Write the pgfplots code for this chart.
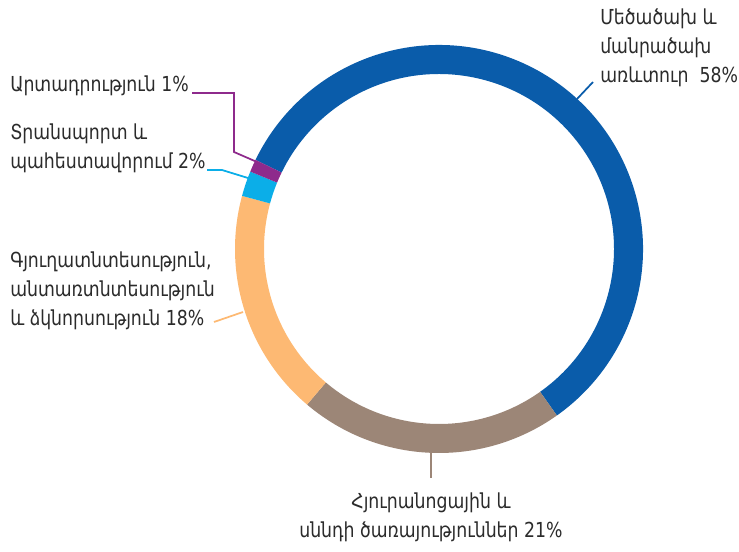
\documentclass[border=0pt]{standalone}
\usepackage{pgfplots}
\pgfplotsset{compat=1.18}
\usepackage{fontspec}
\setmainfont[FakeStretch=0.93]{DejaVu Sans Condensed}
\definecolor{cblue}{HTML}{0A5CAA}
\definecolor{cbrown}{HTML}{9C8677}
\definecolor{corange}{HTML}{FDB973}
\definecolor{ccyan}{HTML}{0BAEE8}
\definecolor{cpurple}{HTML}{8E2A8C}
\definecolor{ctext}{HTML}{2B2B2B}
\begin{document}
\begin{tikzpicture}
\begin{axis}[scale only axis, width=554.25pt, height=414pt,
  xmin=0, xmax=739, ymin=0, ymax=552, y dir=reverse,
  hide axis, clip=false]
\path (axis cs:0,0) (axis cs:739,552);
\xdef\s{154.1}
\foreach \v/\c in {58/cblue,21/cbrown,18/corange,2/ccyan,1/cpurple}{
  \pgfmathsetmacro{\e}{\s-3.6*\v}
  \edef\doit{\noexpand\fill[\c, shift={(axis cs:439,249)}] (\s:153pt) arc[start angle=\s, end angle=\e, radius=153pt] -- (\e:131.25pt) arc[start angle=\e, end angle=\s, radius=131.25pt] -- cycle;}
  \doit
  \xdef\s{\e}
}
% leader lines
\draw[cpurple, line width=1.3pt] (axis cs:192,93) -- (axis cs:234,93) -- (axis cs:234,152) -- (axis cs:257,162);
\draw[ccyan, line width=1.3pt] (axis cs:207,170) -- (axis cs:222,170) -- (axis cs:248,178);
\draw[corange, line width=1.3pt] (axis cs:214,322) -- (axis cs:243,312);
\draw[cbrown, line width=1.3pt] (axis cs:431,452) -- (axis cs:431,478);
\draw[cblue, line width=1.3pt] (axis cs:577,99) -- (axis cs:593,82);
% labels
\tikzset{lab/.style={inner sep=0pt, text=ctext, font=\fontsize{15.5}{21.75}\selectfont}}
\node[lab, anchor=west, align=left] at (axis cs:10,86) {Արտադրություն 1\%};
\node[lab, anchor=west, align=left] at (axis cs:10,148) {Տրանսպորտ և\\պահեստավորում 2\%};
\node[lab, anchor=west, align=left] at (axis cs:10,291) {Գյուղատնտեսություն,\\անտառտնտեսություն\\և ձկնորսություն 18\%};
\node[lab, anchor=center, align=center] at (axis cs:431,517) {Հյուրանոցային և\\սննդի ծառայություններ 21\%};
\node[lab, anchor=west, align=left] at (axis cs:600,48) {Մեծածախ և\\մանրածախ\\առևտուր\ \ 58\%};
\end{axis}
\end{tikzpicture}
\end{document}
